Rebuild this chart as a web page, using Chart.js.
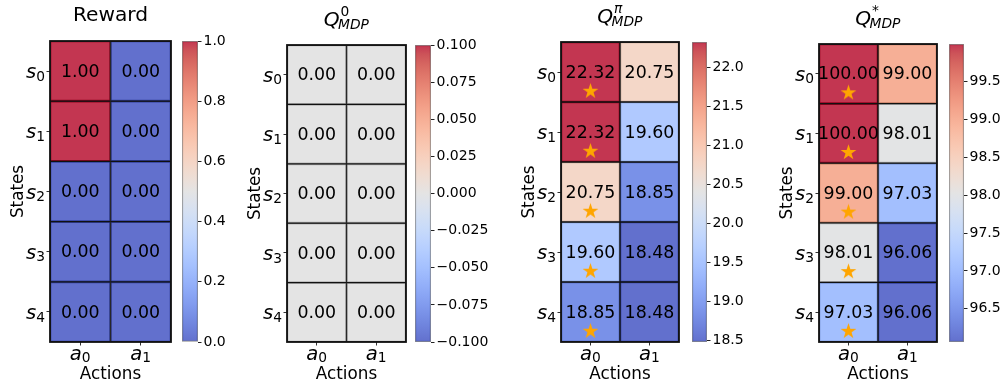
<!DOCTYPE html>
<html>
<head>
<meta charset="utf-8">
<script src="https://cdn.jsdelivr.net/npm/chart.js@4.4.1/dist/chart.umd.min.js"></script>
<style>
  html, body { margin: 0; padding: 0; background: #fff; }
  body { width: 1005px; height: 383px; position: relative; overflow: hidden; }
  .box { position: absolute; top: 0; height: 383px; }
</style>
</head>
<body>
<script>
// ---- data ----
const states  = ['s_0', 's_1', 's_2', 's_3', 's_4'];
const actions = ['a_0', 'a_1'];

const rewardValues = [[1.00, 0.00], [1.00, 0.00], [0.00, 0.00], [0.00, 0.00], [0.00, 0.00]];
const q0Values     = [[0.00, 0.00], [0.00, 0.00], [0.00, 0.00], [0.00, 0.00], [0.00, 0.00]];
const qPiValues    = [[22.32, 20.75], [22.32, 19.60], [20.75, 18.85], [19.60, 18.48], [18.85, 18.48]];
const qStarValues  = [[100.00, 99.00], [100.00, 98.01], [99.00, 97.03], [98.01, 96.06], [97.03, 96.06]];

// greedy action index per state (marked with a star)
const qPiGreedy   = [0, 0, 0, 0, 0];
const qStarGreedy = [0, 0, 0, 0, 0];

// colour ranges
const rewardRange = [0, 1];
const q0Range     = [-0.1, 0.1];
const qPiRange    = [18.48, 22.32];
const qStarRange  = [96.06, 100.00];

// colourbar ticks
const rewardTicks = [0.0, 0.2, 0.4, 0.6, 0.8, 1.0];
const q0Ticks     = [-0.100, -0.075, -0.050, -0.025, 0.000, 0.025, 0.050, 0.075, 0.100];
const qPiTicks    = [18.5, 19.0, 19.5, 20.0, 20.5, 21.0, 21.5, 22.0];
const qStarTicks  = [96.5, 97.0, 97.5, 98.0, 98.5, 99.0, 99.5];

// ---- coolwarm colormap ----
const COOLWARM = [
  [59,76,192],[68,90,204],[77,104,215],[87,117,225],[98,130,234],[108,142,241],
  [119,154,247],[130,165,251],[141,176,254],[152,185,255],[163,194,255],[174,201,253],
  [184,208,249],[194,213,244],[204,217,238],[213,219,230],[221,221,221],[229,216,209],
  [236,211,197],[241,204,185],[245,196,173],[247,187,160],[247,177,148],[247,166,135],
  [244,154,123],[241,141,111],[236,127,99],[229,112,88],[222,96,77],[213,80,66],
  [203,62,56],[192,40,47],[180,4,38]
];
const ALPHA = 0.8;
function coolwarm(t) {
  t = Math.max(0, Math.min(1, t));
  const n = COOLWARM.length - 1;
  const f = t * n;
  const i = Math.min(Math.floor(f), n - 1);
  const u = f - i;
  const a = COOLWARM[i], b = COOLWARM[i + 1];
  return [0, 1, 2].map(k => Math.round(a[k] + (b[k] - a[k]) * u));
}
function rgba(c) { return `rgba(${c[0]},${c[1]},${c[2]},${ALPHA})`; }

Chart.defaults.font.family = '"DejaVu Sans", sans-serif';
Chart.defaults.color = '#000';

const FONT = '"DejaVu Sans"';
const TITLE_PX = 20.2, VALUE_PX = 17.4, LABEL_PX = 16.8, TICK_PX = 19.6, SUB_PX = 13.8, CB_PX = 14;

// filled five-point star used as the point style
function makeStar(R, color) {
  const s = Math.ceil(2 * R + 2);
  const c = document.createElement('canvas');
  c.width = s; c.height = s;
  const g = c.getContext('2d');
  g.translate(s / 2, s / 2);
  g.beginPath();
  for (let k = 0; k < 10; k++) {
    const r = k % 2 === 0 ? R : R * 0.382;
    const a = -Math.PI / 2 + k * Math.PI / 5;
    const x = r * Math.cos(a), y = r * Math.sin(a);
    if (k === 0) g.moveTo(x, y); else g.lineTo(x, y);
  }
  g.closePath();
  g.fillStyle = color;
  g.fill();
  return c;
}
const starImg = makeStar(8.3, '#FFA500');

// text with a subscript: base italic, subscript upright
function subLabel(ctx, label, x, baseline, align) {
  const [base, sub] = label.split('_');
  ctx.font = `italic ${TICK_PX}px ${FONT}`;
  const wb = ctx.measureText(base).width;
  ctx.font = `${SUB_PX}px ${FONT}`;
  const ws = ctx.measureText(sub).width;
  const total = wb + ws;
  let x0 = align === 'right' ? x - total : x - total / 2;
  ctx.textAlign = 'left';
  ctx.textBaseline = 'alphabetic';
  ctx.font = `italic ${TICK_PX}px ${FONT}`;
  ctx.fillText(base, x0, baseline);
  ctx.font = `${SUB_PX}px ${FONT}`;
  ctx.fillText(sub, x0 + wb, baseline + 2.6);
}

function drawTitle(ctx, title, cx, top) {
  ctx.fillStyle = '#000';
  ctx.textBaseline = 'alphabetic';
  ctx.textAlign = 'left';
  if (!title.sub) {
    ctx.font = `${TITLE_PX}px ${FONT}`;
    const w = ctx.measureText(title.base).width;
    ctx.fillText(title.base, cx - w / 2, top - 20.3);
    return;
  }
  const baseline = top - 19.5;
  ctx.font = `italic ${TITLE_PX}px ${FONT}`;
  const wq = ctx.measureText(title.base).width;
  ctx.font = `italic ${SUB_PX}px ${FONT}`;
  const wsub = ctx.measureText(title.sub).width;
  ctx.font = `${title.supItalic ? 'italic ' : ''}${SUB_PX}px ${FONT}`;
  const wsup = ctx.measureText(title.sup).width;
  const total = wq - 1 + Math.max(wsub, wsup + 2);
  const x0 = cx - total / 2;
  ctx.font = `italic ${TITLE_PX}px ${FONT}`;
  ctx.fillText(title.base, x0, baseline);
  ctx.font = `italic ${SUB_PX}px ${FONT}`;
  ctx.fillText(title.sub, x0 + wq - 1.5, baseline + 3.3);
  ctx.font = `${title.supItalic ? 'italic ' : ''}${SUB_PX}px ${FONT}`;
  ctx.fillText(title.sup, x0 + wq + 1, baseline - 10);
}

const H = 383;

function heatmapPanel(p) {
  const padL = 50, padR = 6;
  const W = p.heat.r - p.heat.l + padL + padR;
  const div = document.createElement('div');
  div.className = 'box';
  div.style.left = (p.heat.l - padL) + 'px';
  div.style.width = W + 'px';
  const cv = document.createElement('canvas');
  div.appendChild(cv);
  document.body.appendChild(div);

  const [vmin, vmax] = p.range;
  const datasets = states.map((s, i) => ({
    type: 'bar',
    data: p.values[i].map(() => [i, i + 1]),
    backgroundColor: p.values[i].map(v => rgba(coolwarm((v - vmin) / (vmax - vmin)))),
    borderColor: '#111',
    borderWidth: 1,
    borderSkipped: false,
    grouped: false,
    barPercentage: 1,
    categoryPercentage: 1,
    order: 2
  }));
  if (p.greedy) {
    datasets.push({
      type: 'line',
      data: p.greedy.map((a, i) => ({ x: actions[a], y: i + 0.82 })),
      showLine: false,
      pointStyle: starImg,
      pointRadius: 8,
      order: -1
    });
  }

  const decor = {
    id: 'heatDecor',
    afterDatasetsDraw(chart) {
      const ctx = chart.ctx;
      ctx.save();
      ctx.fillStyle = '#000';
      ctx.font = `${VALUE_PX}px ${FONT}`;
      ctx.textAlign = 'center';
      ctx.textBaseline = 'alphabetic';
      states.forEach((s, i) => {
        const meta = chart.getDatasetMeta(i);
        meta.data.forEach((el, j) => {
          const cy = (el.y + el.base) / 2;
          ctx.fillText(p.values[i][j].toFixed(2), el.x, cy + 5.6);
        });
      });
      ctx.restore();
    },
    afterDraw(chart) {
      const ctx = chart.ctx;
      const a = chart.chartArea;
      const xs = chart.scales.x, ys = chart.scales.y;
      ctx.save();
      // frame
      ctx.strokeStyle = '#111';
      ctx.lineWidth = 1.8;
      ctx.strokeRect(a.left, a.top, a.right - a.left, a.bottom - a.top);
      ctx.fillStyle = '#000';
      // state tick labels
      states.forEach((s, i) => {
        const cy = ys.getPixelForValue(i + 0.5);
        subLabel(ctx, s, a.left - 5, cy + 7, 'right');
      });
      // action tick labels
      actions.forEach((lab, j) => {
        const cx = xs.getPixelForValue(j);
        subLabel(ctx, lab, cx, a.bottom + 17.7, 'center');
      });
      // axis titles
      ctx.font = `${LABEL_PX}px ${FONT}`;
      ctx.textAlign = 'center';
      ctx.textBaseline = 'alphabetic';
      ctx.fillText('Actions', (a.left + a.right) / 2, a.bottom + 36.5);
      ctx.save();
      ctx.translate(a.left - 33.5, (a.top + a.bottom) / 2);
      ctx.rotate(-Math.PI / 2);
      ctx.fillText('States', 0, LABEL_PX * 0.365);
      ctx.restore();
      // panel title
      drawTitle(ctx, p.title, (a.left + a.right) / 2, a.top);
      ctx.restore();
    }
  };

  new Chart(cv, {
    type: 'bar',
    data: { labels: actions, datasets },
    options: {
      responsive: true,
      maintainAspectRatio: false,
      animation: false,
      events: [],
      devicePixelRatio: 1,
      layout: { padding: { left: 0, top: p.heat.t, right: padR, bottom: 0 } },
      plugins: { legend: { display: false }, tooltip: { enabled: false }, title: { display: false } },
      scales: {
        x: {
          type: 'category',
          offset: true,
          ticks: { display: false },
          grid: { offset: false, drawOnChartArea: false, drawTicks: true, tickLength: 3.5, color: '#333', lineWidth: 1 },
          border: { display: false },
          afterFit: s => { s.height = H - p.heat.b; }
        },
        y: {
          type: 'linear',
          min: 0, max: states.length,
          reverse: true,
          ticks: { display: false },
          afterBuildTicks: s => { s.ticks = states.map((_, i) => ({ value: i + 0.5 })); },
          grid: { drawOnChartArea: false, drawTicks: true, tickLength: 3.5, color: '#333', lineWidth: 1 },
          border: { display: false },
          afterFit: s => { s.width = padL; }
        }
      }
    },
    plugins: [decor]
  });
}

function colorbarPanel(p) {
  const padL = 2, axisW = 64;
  const cbW = p.cb.r - p.cb.l;
  const W = padL + cbW + axisW;
  const div = document.createElement('div');
  div.className = 'box';
  div.style.left = (p.cb.l - padL) + 'px';
  div.style.width = W + 'px';
  const cv = document.createElement('canvas');
  div.appendChild(cv);
  document.body.appendChild(div);

  const [vmin, vmax] = p.range;
  const gradient = (ctx) => {
    const chart = ctx.chart;
    if (!chart.chartArea) return rgba(COOLWARM[16]);
    const y = chart.scales.y;
    const g = chart.ctx.createLinearGradient(0, y.getPixelForValue(vmin), 0, y.getPixelForValue(vmax));
    COOLWARM.forEach((c, k) => g.addColorStop(k / (COOLWARM.length - 1), rgba(c)));
    return g;
  };

  new Chart(cv, {
    type: 'bar',
    data: {
      labels: [''],
      datasets: [{
        data: [[vmin, vmax]],
        backgroundColor: gradient,
        borderColor: '#8a8a8a',
        borderWidth: 1,
        borderSkipped: false,
        barPercentage: 1,
        categoryPercentage: 1
      }]
    },
    options: {
      responsive: true,
      maintainAspectRatio: false,
      animation: false,
      events: [],
      devicePixelRatio: 1,
      layout: { padding: { left: padL, top: p.heat.t, right: 0, bottom: H - p.heat.b } },
      plugins: { legend: { display: false }, tooltip: { enabled: false } },
      scales: {
        x: { display: false },
        y: {
          type: 'linear',
          position: 'right',
          min: vmin, max: vmax,
          afterBuildTicks: s => { s.ticks = p.ticks.map(v => ({ value: v })); },
          afterFit: s => { s.width = axisW; },
          ticks: {
            autoSkip: false,
            padding: 2,
            color: '#000',
            font: { family: 'DejaVu Sans', size: CB_PX },
            callback: v => Number(v).toFixed(p.digits).replace('-', '\u2212')
          },
          grid: { drawOnChartArea: false, drawTicks: true, tickLength: 3.5, color: '#222', lineWidth: 1 },
          border: { display: false }
        }
      }
    }
  });
}

const panels = [
  { title: { base: 'Reward' }, values: rewardValues, range: rewardRange, ticks: rewardTicks, digits: 1,
    greedy: null, heat: { l: 50, t: 41, r: 171, b: 342 }, cb: { l: 182, r: 198 } },
  { title: { base: 'Q', sup: '0', sub: 'MDP' }, values: q0Values, range: q0Range, ticks: q0Ticks, digits: 3,
    greedy: null, heat: { l: 287, t: 45, r: 406, b: 342 }, cb: { l: 415, r: 431 } },
  { title: { base: 'Q', sup: '\u03C0', sub: 'MDP', supItalic: true }, values: qPiValues, range: qPiRange, ticks: qPiTicks, digits: 1,
    greedy: qPiGreedy, heat: { l: 561, t: 42, r: 682, b: 342 }, cb: { l: 692, r: 707 } },
  { title: { base: 'Q', sup: '*', sub: 'MDP' }, values: qStarValues, range: qStarRange, ticks: qStarTicks, digits: 1,
    greedy: qStarGreedy, heat: { l: 819, t: 44, r: 940, b: 342 }, cb: { l: 949, r: 964 } }
];

panels.forEach(p => { heatmapPanel(p); colorbarPanel(p); });
</script>
</body>
</html>
